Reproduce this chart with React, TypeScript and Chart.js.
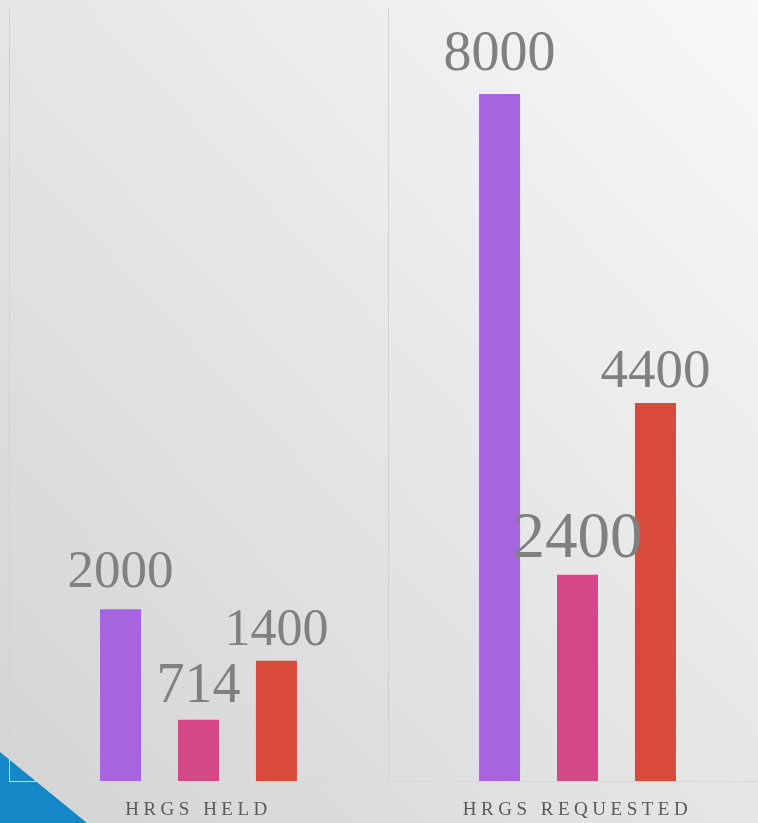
import { useEffect, useRef } from "react";
import { Chart, registerables } from "chart.js";

Chart.register(...registerables);

const categories = ["HRGS HELD", "HRGS REQUESTED"];
const seriesNames = ["Series 1", "Series 2", "Series 3"];
const seriesPurple = [2000, 8000];
const seriesPink = [714, 2400];
const seriesRed = [1400, 4400];
const yMax = 9000;

// label styling (per series, per category)
const labelFontSizes = [
  [53, 56],
  [56, 65],
  [52, 55],
];
const labelGaps = [
  [22, 24],
  [18, 18],
  [16, 16],
];

const colors = ["#a664e0", "#d64788", "#d84a3a"];

const valueLabels = {
  id: "valueLabels",
  beforeDraw(chart: any) {
    chart.ctx.letterSpacing = "4.5px";
  },
  beforeDatasetsDraw(chart: any) {
    chart.ctx.letterSpacing = "0px";
  },
  afterDatasetsDraw(chart: any) {
    const ctx = chart.ctx;
    ctx.save();
    ctx.letterSpacing = "0px";
    ctx.fillStyle = "#808080";
    ctx.textAlign = "center";
    ctx.textBaseline = "alphabetic";
    chart.data.datasets.forEach((ds: any, di: number) => {
      const meta = chart.getDatasetMeta(di);
      meta.data.forEach((el: any, i: number) => {
        const size = labelFontSizes[di][i];
        ctx.font = `${size}px "Liberation Serif", serif`;
        ctx.fillText(String(ds.data[i]), el.x, el.y - labelGaps[di][i]);
      });
    });
    ctx.restore();
  },
};

export default function App() {
  const ref = useRef<HTMLCanvasElement | null>(null);

  useEffect(() => {
    if (!ref.current) return;
    const chart = new Chart(ref.current, {
      type: "bar",
      data: {
        labels: categories,
        datasets: [seriesPurple, seriesPink, seriesRed].map((d, i) => ({
          label: seriesNames[i],
          data: d,
          backgroundColor: colors[i],
          borderWidth: 0,
          barPercentage: 0.526,
          categoryPercentage: 0.617,
        })),
      },
      options: {
        responsive: true,
        maintainAspectRatio: false,
        animation: false,
        layout: { padding: { left: 9, right: 9, top: 8, bottom: 0 } },
        plugins: {
          legend: { display: false },
          tooltip: { enabled: false },
        },
        scales: {
          x: {
            grid: { display: true, color: "#d2d2d2", drawTicks: false, offset: true },
            border: { display: true, color: "#d9d9d9" },
            ticks: {
              font: { family: '"Liberation Serif", serif', size: 19 },
              color: "#595959",
              padding: 18,
            },
            afterFit: (s: any) => {
              s.height = 42;
            },
          },
          y: { display: false, min: 0, max: yMax },
        },
      },
      plugins: [valueLabels],
    });
    return () => chart.destroy();
  }, []);

  return (
    <div
      style={{
        position: "absolute",
        left: 0,
        top: 0,
        width: 758,
        height: 823,
        overflow: "hidden",
        background: "linear-gradient(to top right, #d3d3d3, #f8f8f8)",
      }}
    >
      <div
        style={{
          position: "absolute",
          left: 0,
          top: 0,
          width: 90,
          height: 823,
          background: "#1487c7",
          clipPath: "polygon(0px 752px, 87px 823px, 0px 823px)",
        }}
      />
      <div style={{ position: "absolute", left: 0, top: 0, width: 776, height: 823 }}>
        <canvas ref={ref} />
      </div>
    </div>
  );
}
